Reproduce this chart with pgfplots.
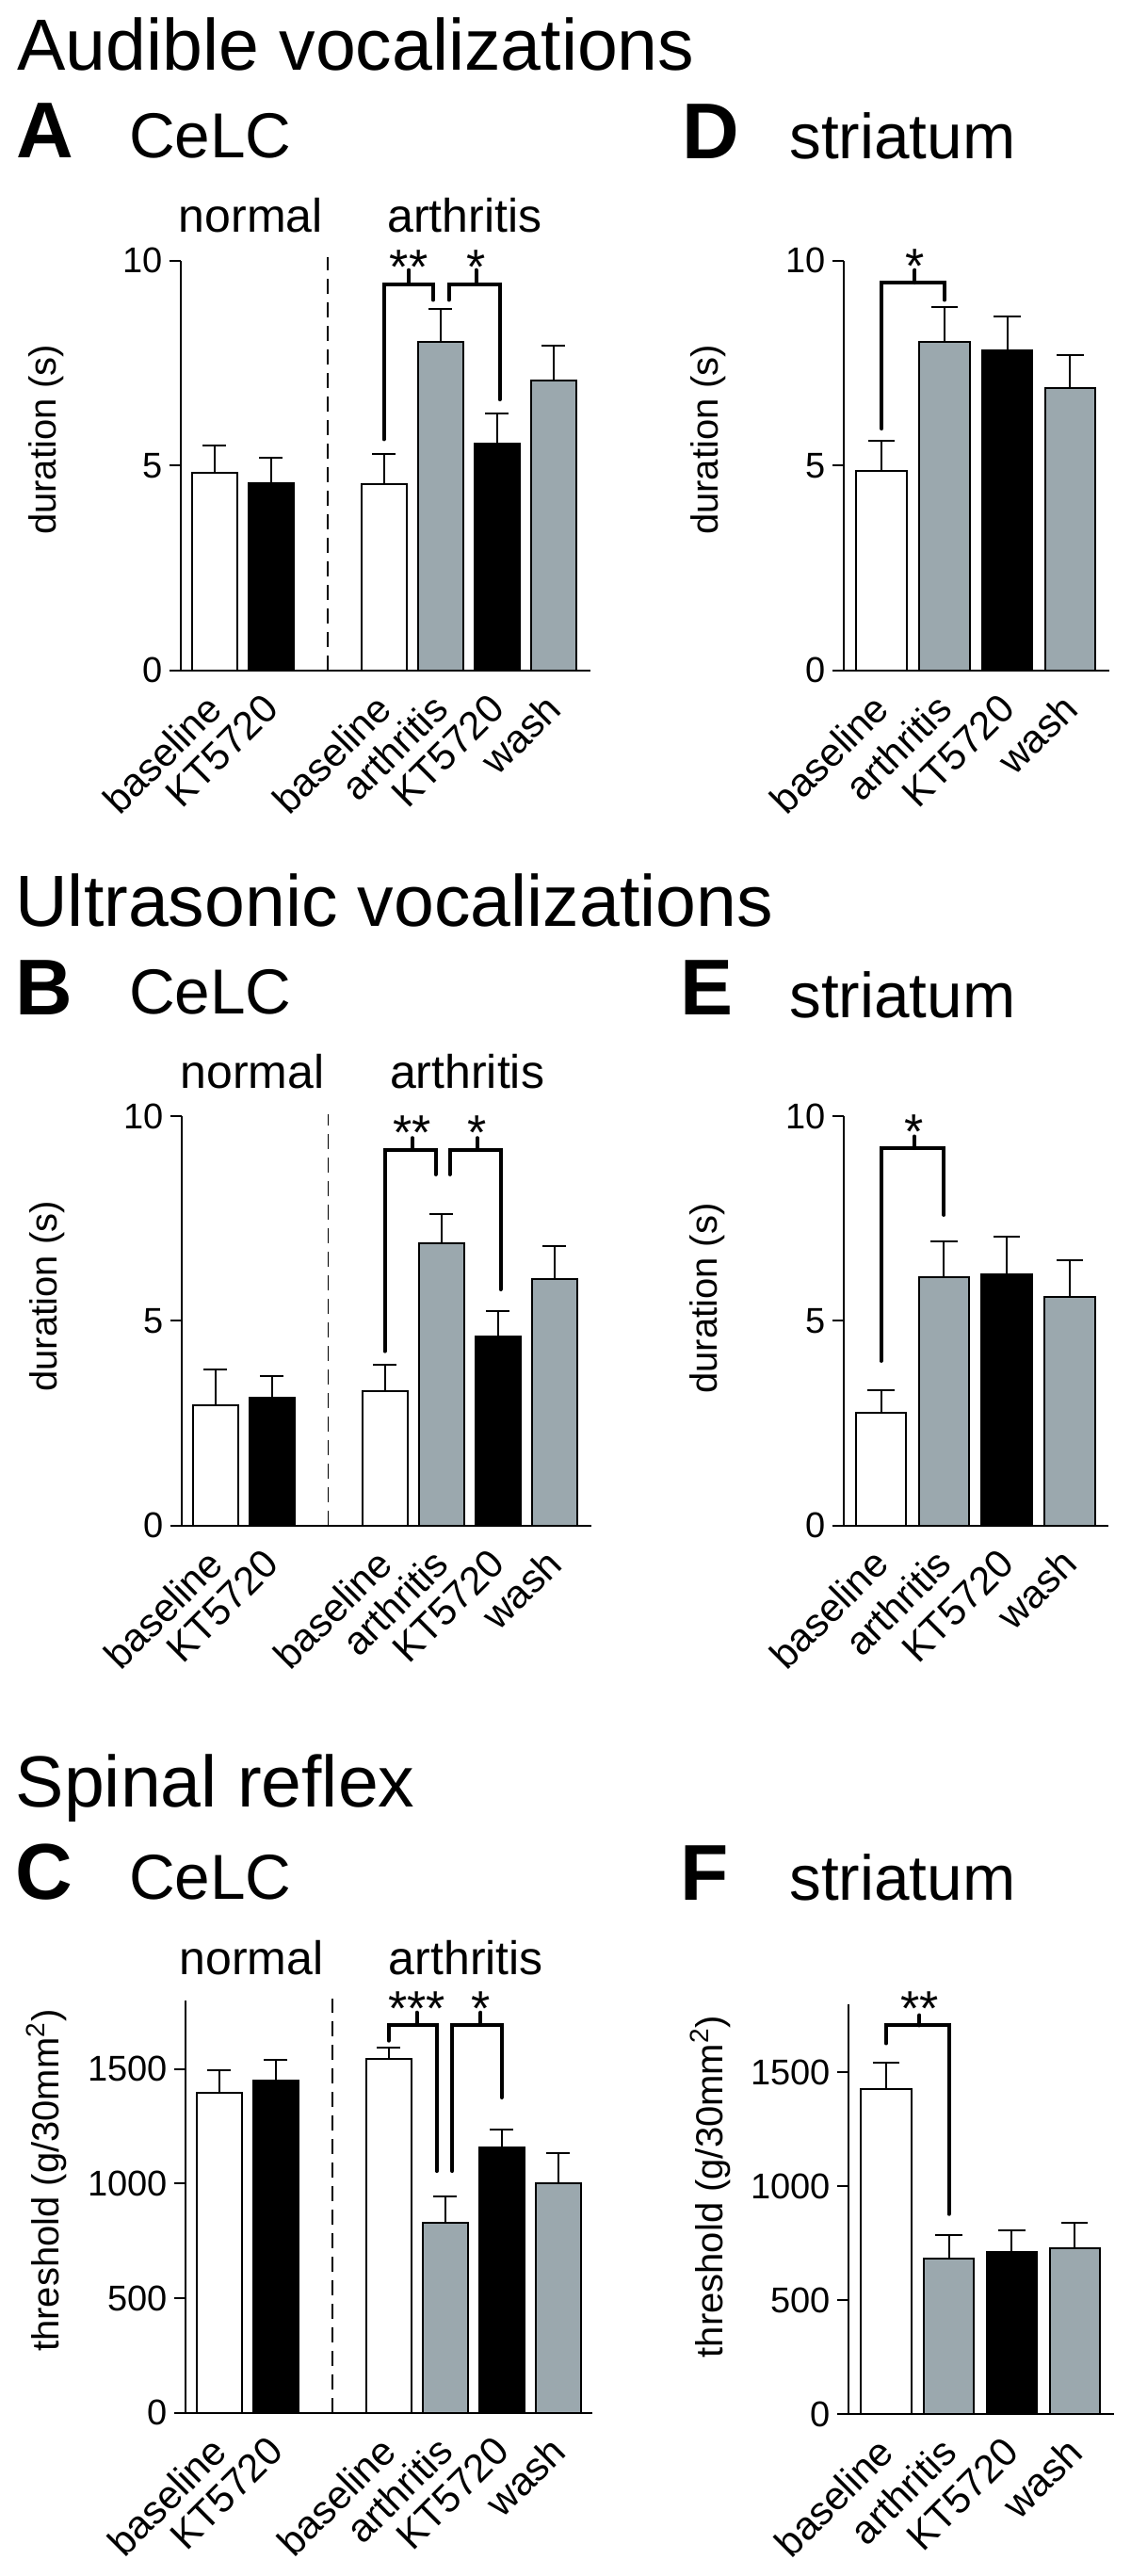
\documentclass[border=0pt]{standalone}
\usepackage{fontspec}
\setmainfont{Liberation Sans}
\usepackage{pgfplots}
\pgfplotsset{compat=1.18}
\newcommand{\fs}[1]{\fontsize{#1}{#1}\selectfont}
\definecolor{bargray}{RGB}{155,168,174}
\pgfplotsset{
 panel/.style={
  scale only axis, anchor=south west, clip=false,
  axis lines*=left,
  axis line style={line width=1pt, black},
  tick align=outside,
  major tick length=6pt,
  ytick style={line width=1pt, black},
  xtick style={draw=none},
  xmin=-0.6, ymin=0,
  /pgf/number format/assume math mode=true,
  /pgf/number format/set thousands separator={},
  yticklabel style={font=\fs{19pt}, inner sep=0pt},
  xticklabel style={font=\fs{21pt}, rotate=45, anchor=east, inner sep=0pt},
  yticklabel shift=3.35pt,
  xticklabel shift=10.5pt,
  ylabel style={font=\fs{20pt}, anchor=center},
 },
 wbar/.style={ybar, bar shift=0pt, bar width=0.8, fill=white, draw=black, line width=1pt},
 kbar/.style={ybar, bar shift=0pt, bar width=0.8, fill=black, draw=black, line width=1pt},
 gbar/.style={ybar, bar shift=0pt, bar width=0.8, fill=bargray, draw=black, line width=1pt},
 eb/.style={error bars/.cd, y dir=plus, y explicit, error bar style={line width=1pt, black}, error mark options={rotate=90, line width=1pt, black, mark size=#1}},
 eb/.default=6.2pt,
}
\tikzset{
 brk/.style={line width=2pt, line cap=round, line join=miter},
 dashline/.style={line width=0.9pt, dash pattern=on 8pt off 4.5pt},
 star/.style={anchor=base, inner sep=0pt, font=\fs{26pt}},
 grp/.style={anchor=base, inner sep=0pt, font=\fs{25pt}},
 ttl/.style={anchor=base west, inner sep=0pt, font=\fs{38.5pt}},
 let/.style={anchor=base west, inner sep=0pt, font=\fs{42pt}\bfseries},
 sub/.style={anchor=base west, inner sep=0pt, font=\fs{33.75pt}},
}
\begin{document}
\begin{tikzpicture}
\path (0,0) rectangle (600pt,-1367.5pt);
% titles
\node[ttl] at (9pt,-37.5pt) {Audible vocalizations};
\node[ttl] at (8pt,-491.65pt) {Ultrasonic vocalizations};
\node[ttl] at (8.2pt,-959.15pt) {Spinal reflex};
\node[let] at (8.5pt,-83.5pt) {A};
\node[let] at (8pt,-538.5pt) {B};
\node[let] at (8.15pt,-1008.35pt) {C};
\node[let] at (361.8pt,-84.15pt) {D};
\node[let] at (361.25pt,-538.8pt) {E};
\node[let] at (361.25pt,-1008.8pt) {F};
\node[sub] at (68.3pt,-83.5pt) {CeLC};
\node[sub] at (68.3pt,-538.35pt) {CeLC};
\node[sub] at (68.3pt,-1008.35pt) {CeLC};
\node[sub] at (419pt,-84.15pt) {striatum};
\node[sub] at (419pt,-540pt) {striatum};
\node[sub] at (419pt,-1008.8pt) {striatum};

% ---------- A ----------
\begin{axis}[panel, at={(95.85pt,-355.85pt)}, width=217.5pt, height=217.5pt,
  xmax=6.65, ymax=10, ytick={0,5,10},
  xtick={0,1,3,4,5,6}, xticklabels={baseline,KT5720,baseline,arthritis,KT5720,wash},
  ylabel={duration (s)}, ylabel style={at={(axis description cs:-0.328,0.563)}}]
\addplot[wbar, eb] coordinates {(0,4.82) +- (0,0.66) (3,4.55) +- (0,0.74)};
\addplot[kbar, eb] coordinates {(1,4.57) +- (0,0.61) (5,5.54) +- (0,0.74)};
\addplot[gbar, eb] coordinates {(4,8.02) +- (0,0.81) (6,7.07) +- (0,0.85)};
\draw[dashline] (axis cs:2,0) -- (axis cs:2,10.08);
\draw[brk] (axis cs:3,5.64) -- (axis cs:3,9.43) -- (axis cs:3.87,9.43) -- (axis cs:3.87,9.04);
\draw[brk] (axis cs:3.44,9.43) -- (axis cs:3.44,9.77);
\node[star] at (axis cs:3.44,9.43) {**};
\draw[brk] (axis cs:4.15,9.04) -- (axis cs:4.15,9.43) -- (axis cs:5.05,9.43) -- (axis cs:5.05,6.61);
\draw[brk] (axis cs:4.63,9.43) -- (axis cs:4.63,9.77);
\node[star] at (axis cs:4.63,9.43) {*};
\node[grp] at (axis cs:0.645,10.69) {normal};
\node[grp] at (axis cs:4.43,10.69) {arthritis};
\end{axis}

% ---------- B ----------
\begin{axis}[panel, at={(96.25pt,-809.85pt)}, width=217.5pt, height=217.25pt,
  xmax=6.65, ymax=10, ytick={0,5,10},
  xtick={0,1,3,4,5,6}, xticklabels={baseline,KT5720,baseline,arthritis,KT5720,wash},
  ylabel={duration (s)}, ylabel style={at={(axis description cs:-0.328,0.56)}}]
\addplot[wbar, eb] coordinates {(0,2.93) +- (0,0.88) (3,3.28) +- (0,0.65)};
\addplot[kbar, eb] coordinates {(1,3.12) +- (0,0.53) (5,4.63) +- (0,0.60)};
\addplot[gbar, eb] coordinates {(4,6.89) +- (0,0.73) (6,6.02) +- (0,0.80)};
\draw[dashline] (axis cs:2,0) -- (axis cs:2,10.05);
\draw[brk] (axis cs:3,4.26) -- (axis cs:3,9.18) -- (axis cs:3.9,9.18) -- (axis cs:3.9,8.58);
\draw[brk] (axis cs:3.49,9.18) -- (axis cs:3.49,9.47);
\node[star] at (axis cs:3.49,9.18) {**};
\draw[brk] (axis cs:4.15,8.58) -- (axis cs:4.15,9.18) -- (axis cs:5.05,9.18) -- (axis cs:5.05,5.77);
\draw[brk] (axis cs:4.64,9.18) -- (axis cs:4.64,9.47);
\node[star] at (axis cs:4.64,9.18) {*};
\node[grp] at (axis cs:0.66,10.68) {normal};
\node[grp] at (axis cs:4.46,10.68) {arthritis};
\end{axis}

% ---------- C ----------
\begin{axis}[panel, at={(98.35pt,-1280.85pt)}, width=216pt, height=218.95pt,
  xmax=6.6, ymax=1800, ytick={0,500,1000,1500},
  xtick={0,1,3,4,5,6}, xticklabels={baseline,KT5720,baseline,arthritis,KT5720,wash},
  ylabel={threshold (g/30mm\textsuperscript{2})}, ylabel style={at={(axis description cs:-0.342,0.563)}}]
\addplot[wbar, eb] coordinates {(0,1397) +- (0,97) (3,1544) +- (0,49)};
\addplot[kbar, eb] coordinates {(1,1448) +- (0,93) (5,1158) +- (0,79)};
\addplot[gbar, eb] coordinates {(4,831) +- (0,114) (6,1000) +- (0,132)};
\draw[dashline] (axis cs:2,0) -- (axis cs:2,1808);
\draw[brk] (axis cs:3,1624) -- (axis cs:3,1692) -- (axis cs:3.85,1692) -- (axis cs:3.85,1055);
\draw[brk] (axis cs:3.5,1692) -- (axis cs:3.5,1747);
\node[star] at (axis cs:3.5,1692) {***};
\draw[brk] (axis cs:4.125,1055) -- (axis cs:4.125,1692) -- (axis cs:5.0,1692) -- (axis cs:5.0,1376);
\draw[brk] (axis cs:4.63,1692) -- (axis cs:4.63,1747);
\node[star] at (axis cs:4.63,1692) {*};
\node[grp] at (axis cs:0.57,1911) {normal};
\node[grp] at (axis cs:4.37,1911) {arthritis};
\end{axis}

% ---------- D ----------
\begin{axis}[panel, at={(448pt,-355.85pt)}, width=140.95pt, height=217.5pt,
  xmax=3.62, ymax=10, ytick={0,5,10},
  xtick={0,1,2,3}, xticklabels={baseline,arthritis,KT5720,wash},
  ylabel={duration (s)}, ylabel style={at={(axis description cs:-0.511,0.563)}}]
\addplot[wbar, eb=7.1pt] coordinates {(0,4.86) +- (0,0.74)};
\addplot[gbar, eb=7.1pt] coordinates {(1,8.02) +- (0,0.85) (3,6.90) +- (0,0.79)};
\addplot[kbar, eb=7.1pt] coordinates {(2,7.80) +- (0,0.84)};
\draw[brk] (axis cs:0,5.90) -- (axis cs:0,9.46) -- (axis cs:1,9.46) -- (axis cs:1,9.04);
\draw[brk] (axis cs:0.53,9.46) -- (axis cs:0.53,9.77);
\node[star] at (axis cs:0.53,9.46) {*};
\end{axis}

% ---------- E ----------
\begin{axis}[panel, at={(447.75pt,-809.75pt)}, width=140.95pt, height=217.15pt,
  xmax=3.62, ymax=10, ytick={0,5,10},
  xtick={0,1,2,3}, xticklabels={baseline,arthritis,KT5720,wash},
  ylabel={duration (s)}, ylabel style={at={(axis description cs:-0.511,0.555)}}]
\addplot[wbar, eb=7.1pt] coordinates {(0,2.75) +- (0,0.56)};
\addplot[gbar, eb=7.1pt] coordinates {(1,6.06) +- (0,0.89) (3,5.58) +- (0,0.90)};
\addplot[kbar, eb=7.1pt] coordinates {(2,6.14) +- (0,0.92)};
\draw[brk] (axis cs:0,4.02) -- (axis cs:0,9.22) -- (axis cs:1,9.22) -- (axis cs:1,7.59);
\draw[brk] (axis cs:0.53,9.22) -- (axis cs:0.53,9.51);
\node[star] at (axis cs:0.53,9.22) {*};
\end{axis}

% ---------- F ----------
\begin{axis}[panel, at={(450.4pt,-1281.45pt)}, width=140.95pt, height=217.5pt,
  xmax=3.62, ymax=1800, ytick={0,500,1000,1500},
  xtick={0,1,2,3}, xticklabels={baseline,arthritis,KT5720,wash},
  ylabel={threshold (g/30mm\textsuperscript{2})}, ylabel style={at={(axis description cs:-0.521,0.555)}}]
\addplot[wbar, eb=7.1pt] coordinates {(0,1427) +- (0,118)};
\addplot[gbar, eb=7.1pt] coordinates {(1,681) +- (0,104) (3,727) +- (0,114)};
\addplot[kbar, eb=7.1pt] coordinates {(2,712) +- (0,94)};
\draw[brk] (axis cs:0,1628) -- (axis cs:0,1707) -- (axis cs:1,1707) -- (axis cs:1,878);
\draw[brk] (axis cs:0.53,1707) -- (axis cs:0.53,1752);
\node[star] at (axis cs:0.53,1707) {**};
\end{axis}
\end{tikzpicture}
\end{document}
